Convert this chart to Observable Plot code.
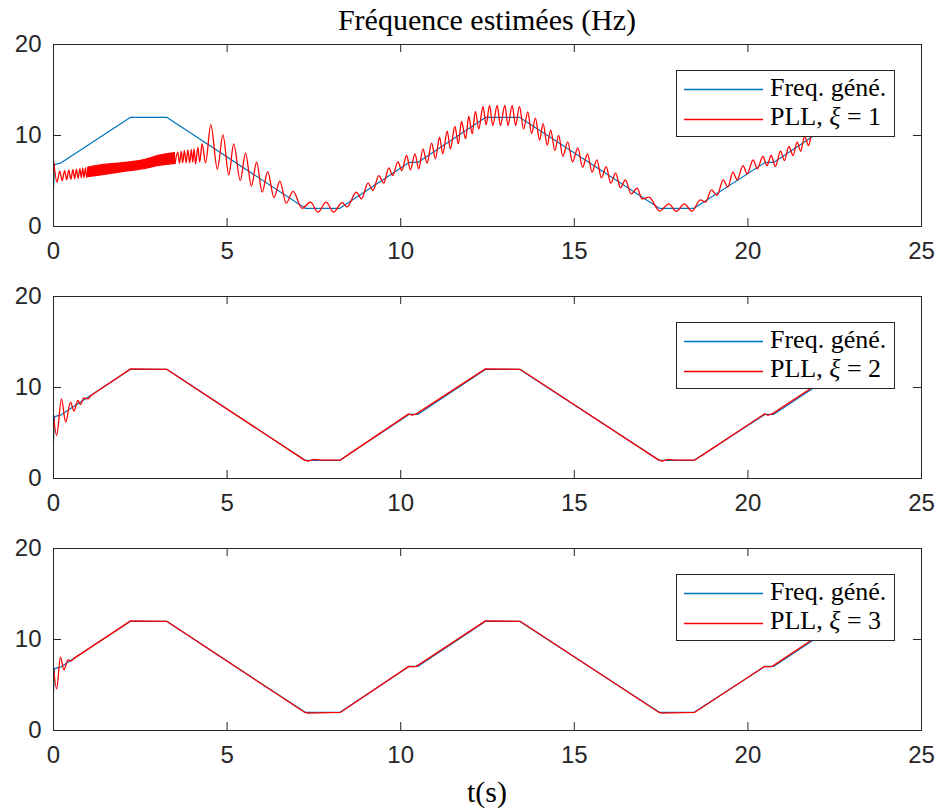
<!DOCTYPE html>
<html>
<head>
<meta charset="utf-8">
<script src="https://cdn.jsdelivr.net/npm/d3@7"></script>
<script src="https://cdn.jsdelivr.net/npm/@observablehq/plot@0.6"></script>
<style>
  body { margin: 0; background: #fff; }
  #wrap { position: relative; width: 938px; height: 809px; overflow: hidden; }
  .panel { position: absolute; left: 0; }
  .title { position: absolute; left: 0; width: 974px; text-align: center; font-family: "Liberation Serif", serif; font-size: 30px; line-height: 30px; color: #000; }
  .legend { position: absolute; left: 676px; }
</style>
</head>
<body>
<div id="wrap"></div>
<script>
// ---------- data ----------
const xTicks = [0, 5, 10, 15, 20, 25];
const yTicks = [0, 10, 20];
const xiValues = [1, 2, 3];
const legendBlue = "Freq. géné.";
const legendRed = "PLL, ";

// generator frequency [t, Hz]
const blue = [[0, 4.1], [0.03, 6.8], [0.22, 7.0], [2.22, 12], [3.26, 12], [7.25, 2], [8.25, 2],
  [10.25, 7.05], [10.5, 7.05], [12.45, 12], [13.42, 12], [17.45, 2], [18.45, 2],
  [20.5, 7.05], [20.75, 7.05], [22.7, 12]];

// PLL xi=1 : start of transient (peaks / troughs)
const red1a = [[0.01, 7.07], [0.1, 4.87], [0.18, 6.08], [0.25, 5.05], [0.32, 6.15], [0.38, 5.13],
  [0.44, 6.2], [0.5, 5.2], [0.56, 6.25], [0.61, 5.25], [0.66, 6.3], [0.71, 5.3], [0.76, 6.35],
  [0.8, 5.35], [0.84, 6.4], [0.88, 5.38], [0.92, 6.45], [0.96, 5.4], [1.0, 6.48]];
// PLL xi=1 : dense oscillation band [t, low, high]
const red1band = [[1.0, 5.42, 6.48], [1.33, 5.6, 6.7], [2.0, 5.97, 6.96], [2.65, 6.34, 7.33],
  [3.0, 6.63, 7.73], [3.5, 6.89, 8.06]];
// PLL xi=1 : rest of the signal (peaks / troughs)
const red1c = [[3.5, 6.9], [3.58, 8.16], [3.63, 6.96], [3.68, 8.27], [3.72, 7.0], [3.77, 8.35],
  [3.82, 7.0], [3.87, 8.43], [3.92, 7.0], [3.97, 8.46], [4.01, 7.07], [4.05, 8.54], [4.09, 6.89],
  [4.16, 8.7], [4.21, 7.07], [4.28, 9.08], [4.38, 7.0], [4.53, 11.2], [4.72, 6.3], [4.88, 10.07],
  [5.05, 5.68], [5.19, 9.08], [5.38, 5.05], [5.53, 8.07], [5.7, 4.45], [5.85, 7.07], [6.01, 3.77],
  [6.17, 6.04], [6.35, 3.18], [6.52, 4.98], [6.7, 2.55], [6.9, 3.85], [7.16, 2.0], [7.4, 2.67],
  [7.62, 1.57], [7.85, 2.67], [8.07, 1.57], [8.31, 2.62], [8.46, 2.15], [8.72, 3.77], [8.87, 3.04],
  [9.06, 4.76], [9.2, 3.96], [9.37, 5.6], [9.51, 4.76], [9.66, 6.45], [9.77, 5.6], [9.92, 7.14],
  [10.03, 6.15], [10.17, 7.8], [10.28, 6.23], [10.41, 7.99], [10.52, 6.34], [10.64, 8.54],
  [10.76, 6.96], [10.89, 9.16], [11.0, 7.44], [11.12, 9.81], [11.21, 7.99], [11.34, 10.47],
  [11.43, 8.54], [11.56, 10.99], [11.66, 9.08], [11.75, 11.54], [11.87, 9.64], [11.96, 12.09],
  [12.06, 10.19], [12.15, 12.64], [12.25, 10.74], [12.37, 13.19], [12.46, 11.18], [12.56, 13.3],
  [12.65, 11.1], [12.78, 13.3], [12.87, 11.1], [13.0, 13.3], [13.09, 11.1], [13.21, 13.3],
  [13.31, 11.1], [13.42, 13.2], [13.54, 10.7], [13.66, 12.6], [13.77, 10.2], [13.88, 11.9],
  [14.0, 9.5], [14.1, 11.3], [14.22, 8.95], [14.32, 10.6], [14.44, 8.35], [14.55, 10.0],
  [14.67, 7.7], [14.81, 9.3], [14.95, 7.1], [15.1, 8.64], [15.24, 6.52], [15.38, 7.99],
  [15.51, 5.97], [15.65, 7.33], [15.78, 5.35], [15.92, 6.59], [16.05, 4.76], [16.19, 5.86],
  [16.33, 4.25], [16.47, 5.13], [16.64, 3.59], [16.81, 4.21], [16.95, 3.04], [17.15, 3.22],
  [17.46, 1.7], [17.72, 2.49], [17.94, 1.68], [18.17, 2.49], [18.39, 1.68], [18.63, 2.93],
  [18.78, 2.67], [18.95, 4.03], [19.11, 3.41], [19.29, 5.13], [19.42, 4.32], [19.57, 5.97],
  [19.69, 5.13], [19.86, 6.7], [19.98, 5.79], [20.15, 7.33], [20.27, 6.34], [20.43, 7.69],
  [20.55, 6.7], [20.67, 7.8], [20.79, 6.59], [20.94, 8.27], [21.05, 7.25], [21.18, 8.79],
  [21.3, 7.8], [21.42, 9.27], [21.52, 8.27], [21.63, 9.89], [21.75, 8.9], [21.85, 10.36],
  [21.95, 9.9], [22.05, 11.0], [22.15, 10.5], [22.25, 11.6]];

// PLL xi=2
const red2a = [[0, 6.92], [0.09, 4.73], [0.23, 8.75], [0.35, 6.19], [0.49, 8.39], [0.59, 7.4],
  [0.7, 8.57], [0.78, 8.13], [0.87, 8.87], [0.99, 8.75], [1.07, 9.1]];
const red2b = [[1.07, 9.1], [2.22, 12.05], [3.26, 12.0], [7.22, 2.05], [7.33, 1.9], [7.5, 2.1],
  [7.7, 2.03], [8.27, 2.03], [8.5, 2.65], [10.23, 7.1], [10.33, 6.95], [10.45, 7.1], [12.44, 12.05],
  [13.44, 12.0], [17.42, 2.05], [17.53, 1.9], [17.7, 2.1], [17.9, 2.03], [18.47, 2.03],
  [18.7, 2.6], [20.48, 7.1], [20.58, 6.95], [20.7, 7.1], [22.65, 12.0]];

// PLL xi=3
const red3a = [[0, 6.96], [0.09, 4.58], [0.2, 8.06], [0.3, 6.67], [0.42, 7.77], [0.5, 7.65],
  [0.6, 7.95]];
const red3b = [[0.6, 7.95], [2.22, 12.05], [3.26, 12.0], [7.22, 2.03], [7.32, 1.92], [8.27, 2.0],
  [10.23, 7.05], [10.33, 6.98], [10.45, 7.05], [12.44, 12.05], [13.44, 12.0], [17.42, 2.03],
  [17.52, 1.92], [18.47, 2.0], [20.48, 7.05], [20.58, 6.98], [20.7, 7.05], [22.65, 12.0]];

// ---------- drawing ----------
const BLUE = "#0072BD", RED = "#ff0000", AX = "#262626";
const W = 938, H = 290, mL = 53, mR = 17, mT = 44, mB = 64;
const innerW = W - mL - mR, innerH = H - mT - mB;
const panelTops = [0, 252, 504];
const wrap = document.getElementById("wrap");

function frameMarks() {
  return [
    Plot.tickX(xTicks, {x: d => d, stroke: AX, insetTop: innerH - 8}),
    Plot.tickX(xTicks, {x: d => d, stroke: AX, insetBottom: innerH - 8}),
    Plot.tickY(yTicks, {y: d => d, stroke: AX, insetRight: innerW - 8}),
    Plot.tickY(yTicks, {y: d => d, stroke: AX, insetLeft: innerW - 8}),
    Plot.axisX(xTicks, {anchor: "bottom", tickSize: 0, tickPadding: 15, fontSize: 24, fill: AX, label: null}),
    Plot.axisY(yTicks, {anchor: "left", tickSize: 0, tickPadding: 12, fontSize: 24, fill: AX, label: null}),
    Plot.frame({stroke: AX, strokeWidth: 1})
  ];
}

const lx = d => d[0], ly = d => d[1];
const panelMarks = [
  [
    Plot.line(blue, {x: lx, y: ly, stroke: BLUE, strokeWidth: 1.2}),
    Plot.areaY(red1band, {x: d => d[0], y1: d => d[1], y2: d => d[2], fill: RED, stroke: RED, strokeWidth: 1.2, curve: "monotone-x"}),
    Plot.line(red1a, {x: lx, y: ly, stroke: RED, strokeWidth: 1.3, curve: "monotone-x"}),
    Plot.line(red1c, {x: lx, y: ly, stroke: RED, strokeWidth: 1.3, curve: "monotone-x"})
  ],
  [
    Plot.line(blue, {x: lx, y: ly, stroke: BLUE, strokeWidth: 1.2}),
    Plot.line(red2a, {x: lx, y: ly, stroke: RED, strokeWidth: 1.3, curve: "monotone-x"}),
    Plot.line(red2b, {x: lx, y: ly, stroke: RED, strokeWidth: 1.3})
  ],
  [
    Plot.line(blue, {x: lx, y: ly, stroke: BLUE, strokeWidth: 1.2}),
    Plot.line(red3a, {x: lx, y: ly, stroke: RED, strokeWidth: 1.3, curve: "monotone-x"}),
    Plot.line(red3b, {x: lx, y: ly, stroke: RED, strokeWidth: 1.3})
  ]
];

panelMarks.forEach((marks, i) => {
  const svg = Plot.plot({
    width: W, height: H,
    marginLeft: mL, marginRight: mR, marginTop: mT, marginBottom: mB,
    x: {domain: [0, 25], axis: null},
    y: {domain: [0, 20], axis: null},
    style: {fontFamily: "Liberation Sans, Arial, sans-serif", fontSize: "24px", color: AX, background: "transparent", overflow: "visible"},
    marks: [...marks, ...frameMarks()]
  });
  svg.classList.add("panel");
  svg.style.top = panelTops[i] + "px";
  wrap.appendChild(svg);

  // legend
  const ns = "http://www.w3.org/2000/svg";
  const lg = document.createElementNS(ns, "svg");
  lg.setAttribute("width", 219); lg.setAttribute("height", 67);
  lg.setAttribute("class", "legend");
  lg.style.top = (panelTops[i] + 70) + "px";
  lg.innerHTML =
    `<rect x="0.5" y="0.5" width="218" height="66" fill="#fff" stroke="${AX}" stroke-width="1"/>` +
    `<line x1="8" x2="87" y1="19.5" y2="19.5" stroke="${BLUE}" stroke-width="1.3"/>` +
    `<line x1="8" x2="87" y1="49.5" y2="49.5" stroke="${RED}" stroke-width="1.3"/>` +
    `<text x="94" y="26" font-family="Liberation Serif, serif" font-size="26" fill="#000">${legendBlue}</text>` +
    `<text x="94" y="55" font-family="Liberation Serif, serif" font-size="26" fill="#000">${legendRed}<tspan font-style="italic">ξ</tspan> = ${xiValues[i]}</text>`;
  wrap.appendChild(lg);
});

const title = document.createElement("div");
title.className = "title";
title.style.top = "5px";
title.textContent = "Fréquence estimées (Hz)";
wrap.appendChild(title);

const xl = document.createElement("div");
xl.className = "title";
xl.style.top = "777px";
xl.textContent = "t(s)";
wrap.appendChild(xl);
</script>
</body>
</html>
